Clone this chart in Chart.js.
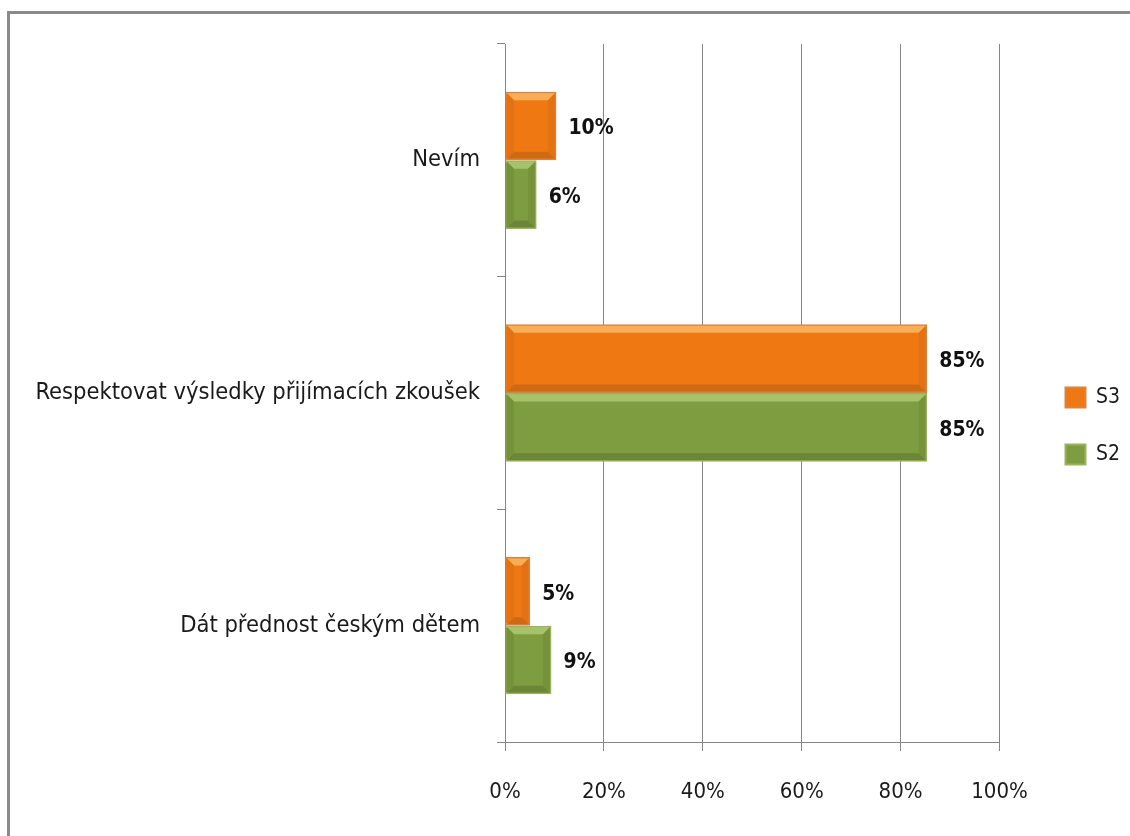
<!DOCTYPE html>
<html>
<head>
<meta charset="utf-8">
<script src="https://cdn.jsdelivr.net/npm/chart.js@4.4.0/dist/chart.umd.min.js"></script>
<style>
html, body { margin: 0; padding: 0; background: #fff; }
#wrap { position: relative; width: 1130px; height: 836px; overflow: hidden; }
#frame { position: absolute; left: 7px; top: 11px; right: -10px; bottom: -10px;
         border-top: 3px solid #8a8a8a; border-left: 3px solid #8a8a8a; }
canvas { position: absolute; left: 0; top: 0; }
</style>
</head>
<body>
<div id="wrap">
  <div id="frame"></div>
  <canvas id="myChart" width="1130" height="836"></canvas>
</div>
<script>
// Data
const categories = ['Nevím', 'Respektovat výsledky přijímacích zkoušek', 'Dát přednost českým dětem'];
const s3Values = [10.4, 85.4, 5.1];
const s2Values = [6.4, 85.4, 9.4];
const xTicks = [0, 20, 40, 60, 80, 100];

const FONT = "'Liberation Sans Narrow', 'DejaVu Sans Condensed', sans-serif";
Chart.defaults.font.family = FONT;
Chart.defaults.font.size = 24;
Chart.defaults.color = '#1a1a1a';

// draws the Excel-like bevel over each bar
const bevel = {
    id: 'bevel',
    afterDatasetsDraw(chart) {
        const ctx = chart.ctx;
        const poly = (pts, color) => {
            ctx.beginPath();
            ctx.moveTo(pts[0][0], pts[0][1]);
            pts.slice(1).forEach(p => ctx.lineTo(p[0], p[1]));
            ctx.closePath();
            ctx.fillStyle = color;
            ctx.fill();
        };
        chart.data.datasets.forEach((ds, i) => {
            chart.getDatasetMeta(i).data.forEach(bar => {
                const { x, y, base, height } = bar.getProps(['x', 'y', 'base', 'height'], true);
                const l = Math.min(x, base) + 1.5, r = Math.max(x, base) - 1.5;
                const t = y - height / 2 + 1.5, b = y + height / 2 - 1.5;
                const d = Math.min(7, (r - l) / 3, (b - t) / 3);
                ctx.save();
                poly([[l, t], [r, t], [r - d, t + d], [l + d, t + d]], ds.bevel.top);
                poly([[l, b], [r, b], [r - d, b - d], [l + d, b - d]], ds.bevel.bottom);
                poly([[r, t], [r, b], [r - d, b - d], [r - d, t + d]], ds.bevel.side);
                poly([[l, t], [l, b], [l + d, b - d], [l + d, t + d]], ds.bevel.side);
                ctx.restore();
            });
        });
    }
};

// percentage labels right of the bars
const valueLabels = {
    id: 'valueLabels',
    afterDatasetsDraw(chart) {
        const ctx = chart.ctx;
        ctx.save();
        ctx.font = 'bold 21px ' + FONT;
        ctx.fillStyle = '#111';
        ctx.textAlign = 'left';
        ctx.textBaseline = 'middle';
        chart.data.datasets.forEach((ds, i) => {
            chart.getDatasetMeta(i).data.forEach((bar, j) => {
                ctx.fillText(Math.round(ds.data[j]) + '%', bar.x + 12, bar.y + 3);
            });
        });
        ctx.restore();
    }
};

const ctx = document.getElementById('myChart').getContext('2d');
const chart = new Chart(ctx, {
    type: 'bar',
    data: {
        labels: categories,
        datasets: [{
            label: 'S3',
            data: s3Values,
            xAxisID: 'x',
            yAxisID: 'y',
            backgroundColor: '#F07812',
            borderColor: '#D9843E',
            borderWidth: 2,
            bevel: { top: '#F8AE57', bottom: '#CF6A14', side: '#E27213' }
        }, {
            label: 'S2',
            data: s2Values,
            xAxisID: 'x',
            yAxisID: 'y',
            backgroundColor: '#7E9C40',
            borderColor: '#9AB45E',
            borderWidth: 2,
            bevel: { top: '#A6C36C', bottom: '#6B8636', side: '#76933B' }
        }]
    },
    options: {
        indexAxis: 'y',
        responsive: false,
        animation: false,
        devicePixelRatio: 1,
        categoryPercentage: 0.59,
        barPercentage: 1,
        layout: { padding: { top: 44, bottom: 28, left: 0, right: 0 } },
        plugins: {
            legend: {
                position: 'right',
                labels: { boxWidth: 20, boxHeight: 20, padding: 36, font: { size: 21 }, color: '#1a1a1a' }
            },
            tooltip: { enabled: false }
        },
        scales: {
            x: {
                min: 0,
                max: 100,
                afterBuildTicks(scale) { scale.ticks = xTicks.map(v => ({ value: v })); },
                afterFit(scale) { scale.height = 66; },
                grid: { color: '#868686', tickLength: 9 },
                border: { color: '#868686' },
                ticks: { padding: 28, font: { size: 22 }, callback: v => v + '%' }
            },
            y: {
                grid: { drawOnChartArea: false, tickLength: 8, offset: true, color: '#868686' },
                border: { color: '#868686' },
                ticks: { padding: 17, font: { size: 23.5 } },
                afterFit(scale) { scale.width = 505; }
            },
            gap: {
                type: 'linear',
                position: 'right',
                grid: { display: false },
                border: { display: false },
                ticks: { display: false },
                afterFit(scale) { scale.width = 30; }
            }
        }
    },
    plugins: [bevel, valueLabels]
});
</script>
</body>
</html>
